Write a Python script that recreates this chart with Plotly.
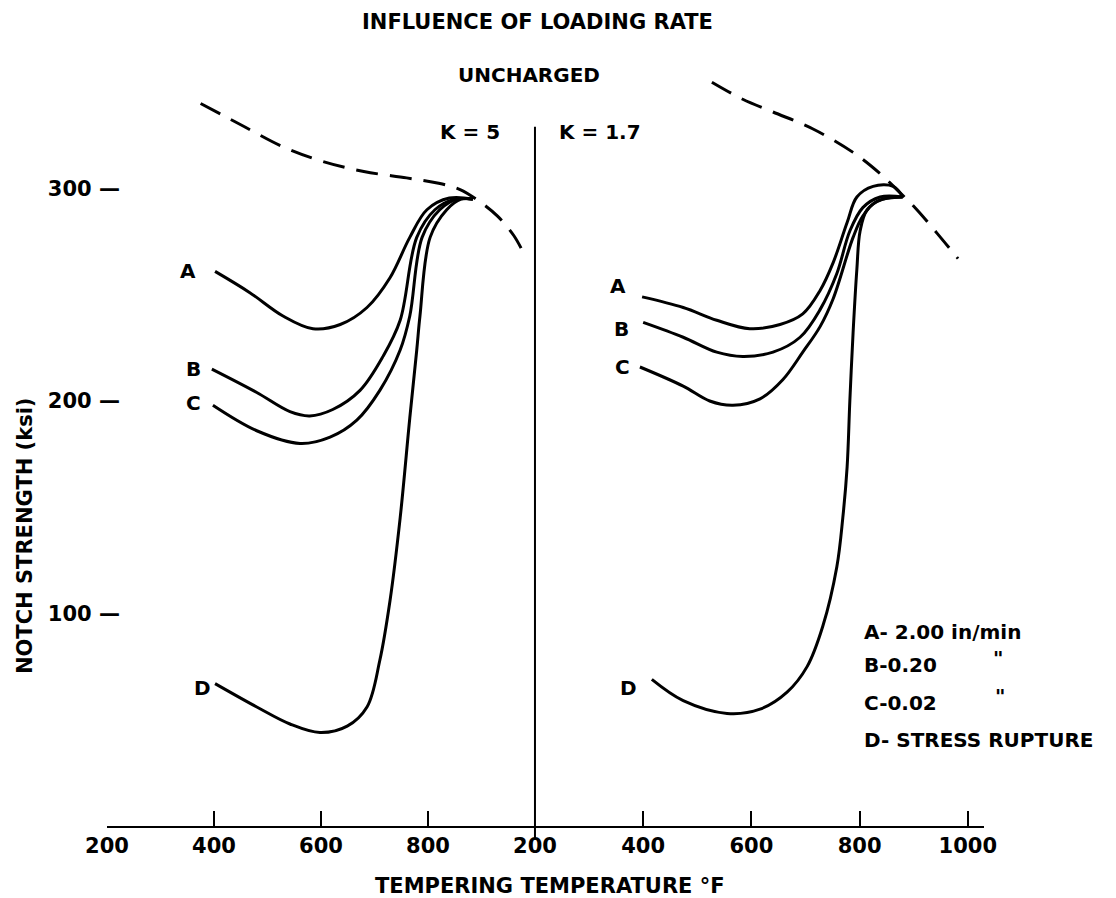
import plotly.graph_objects as go

# ---------------- K = 5 (left panel) ----------------
k5_dash_temp = [375, 450, 530, 600, 680, 760, 820, 860, 890, 930, 960, 976]
k5_dash_ksi = [340, 330, 319.5, 313, 308, 305, 302.5, 299.5, 295, 287, 278, 271]

k5_A_temp = [402, 467, 529, 585, 636, 686, 729, 766, 798, 840, 884]
k5_A_ksi = [261, 251, 240, 234, 236, 244, 258, 277, 290, 295.5, 295]

k5_B_temp = [396, 480, 542, 579, 622, 673, 716, 748, 779, 813, 850, 884]
k5_B_ksi = [215, 204, 195, 193, 196, 205, 221, 238, 277, 290, 295, 295]

k5_C_temp = [398, 480, 561, 617, 667, 710, 748, 766, 789, 822, 855, 884]
k5_C_ksi = [198, 186, 180, 183, 191, 205, 224, 240, 277, 290, 295, 295]

k5_D_temp = [402, 480, 542, 598, 649, 686, 710, 729, 748, 766, 779, 785, 804, 835, 862, 884]
k5_D_ksi = [67, 56, 48, 44, 47, 56, 78, 106, 145, 192, 224, 240, 277, 290, 295, 295]

# ---------------- K = 1.7 (right panel) ----------------
k17_dash_temp = [527, 584, 640, 714, 788, 838, 875, 906, 943, 982]
k17_dash_ksi = [350, 342, 336, 328, 317, 307, 298, 290, 279, 267]

k17_A_temp = [398, 474, 536, 597, 653, 695, 727, 751, 777, 795, 825, 862, 880]
k17_A_ksi = [249, 244, 238, 234, 236, 241, 252, 265, 284, 296, 301, 301, 296]

k17_B_temp = [400, 474, 536, 584, 640, 690, 727, 758, 782, 806, 838, 880]
k17_B_ksi = [237, 230, 223, 221, 223, 230, 243, 260, 280, 291, 296, 296]

k17_C_temp = [394, 474, 523, 566, 616, 658, 695, 727, 751, 788, 806, 832, 880]
k17_C_ksi = [216, 207, 200, 198, 201, 210, 223, 235, 248, 277, 287, 294, 296]

k17_D_temp = [416, 474, 555, 616, 666, 703, 732, 758, 769, 777, 782, 788, 795, 801, 814, 843, 878]
k17_D_ksi = [69, 59, 53, 55, 63, 75, 94, 122, 145, 169, 200, 232, 262, 280, 290, 295, 296]

# ---------------- text ----------------
left_ticks = [200, 400, 600, 800]
right_ticks = [200, 400, 600, 800, 1000]
y_ticks = [100, 200, 300]
y_tick_text = ["100 —", "200 —", "300 —"]
legend_lines = ["A- 2.00 in/min", "B-0.20", "C-0.02", "D- STRESS RUPTURE"]

FONT = "DejaVu Sans"
fig = go.Figure()


def add_curve(x, y, xa, dash=None):
    fig.add_trace(go.Scatter(
        x=x, y=y, xaxis=xa, yaxis="y", mode="lines",
        line=dict(color="black", width=3, shape="spline", smoothing=1.0,
                  dash=dash),
        showlegend=False, hoverinfo="skip"))


add_curve(k5_dash_temp, k5_dash_ksi, "x", dash="22px,12px")
add_curve(k5_A_temp, k5_A_ksi, "x")
add_curve(k5_B_temp, k5_B_ksi, "x")
add_curve(k5_C_temp, k5_C_ksi, "x")
add_curve(k5_D_temp, k5_D_ksi, "x")
add_curve(k17_dash_temp, k17_dash_ksi, "x2", dash="22px,12px")
add_curve(k17_A_temp, k17_A_ksi, "x2")
add_curve(k17_B_temp, k17_B_ksi, "x2")
add_curve(k17_C_temp, k17_C_ksi, "x2")
add_curve(k17_D_temp, k17_D_ksi, "x2")

split = 0.488
tickfont = dict(family=FONT, size=21, color="black", weight="bold")
xcommon = dict(showline=True, linewidth=2, linecolor="black", ticks="inside",
               ticklen=15, tickwidth=2, tickcolor="black", showgrid=False,
               zeroline=False, anchor="y", tickfont=tickfont)
fig.update_layout(
    width=1116, height=898,
    margin=dict(l=107, r=132, t=61, b=72),
    paper_bgcolor="white", plot_bgcolor="white",
    font=dict(family=FONT, color="black"),
    xaxis=dict(domain=[0, split], range=[200, 1000], tickvals=left_ticks,
               **xcommon),
    xaxis2=dict(domain=[split, 1], range=[200, 1030], tickvals=right_ticks,
                **xcommon),
    yaxis=dict(range=[0, 360], tickvals=y_ticks, ticktext=y_tick_text,
               ticks="", showline=False, showgrid=False, zeroline=False,
               ticklabelstandoff=-14, tickfont=tickfont),
)

# divider between panels
fig.add_shape(type="line", xref="paper", yref="paper", x0=split, x1=split,
              y0=-0.018, y1=0.914, line=dict(color="black", width=2))

ann = []


def note(text, x, y, xref="paper", yref="paper", size=21, xanchor="center",
         yanchor="middle", angle=0):
    ann.append(dict(text=text, x=x, y=y, xref=xref, yref=yref,
                    showarrow=False, xanchor=xanchor, yanchor=yanchor,
                    textangle=angle,
                    font=dict(family=FONT, size=size, color="black",
                              weight="bold")))


note("INFLUENCE OF LOADING RATE", 0.491, 1.051, size=21)
note("UNCHARGED", 0.481, 0.9817, size=20)
note("K = 5", 0.414, 0.907, size=20)
note("K = 1.7", 0.562, 0.907, size=20)
note("TEMPERING TEMPERATURE °F", 0.505, -0.078, size=21)
note("NOTCH STRENGTH (ksi)", -0.0935, 0.379, size=21, angle=-90)

# curve labels
for lab, xv, yv in [("A", 352, 261), ("B", 361, 215), ("C", 361, 199), ("D", 378, 65)]:
    note(lab, xv, yv, xref="x", yref="y", size=20)
for lab, xv, yv in [("A", 354, 254), ("B", 360, 234), ("C", 362, 216), ("D", 372, 65)]:
    note(lab, xv, yv, xref="x2", yref="y", size=20)

# legend block
for txt, yv in zip(legend_lines, [0.2536, 0.2105, 0.1608, 0.1124]):
    note(txt, 0.861, yv, size=20, xanchor="left")
note('"', 1.016, 0.2200, size=20)
note('"', 1.018, 0.1700, size=20)

fig.update_layout(annotations=ann)
fig.write_html("out.html")
